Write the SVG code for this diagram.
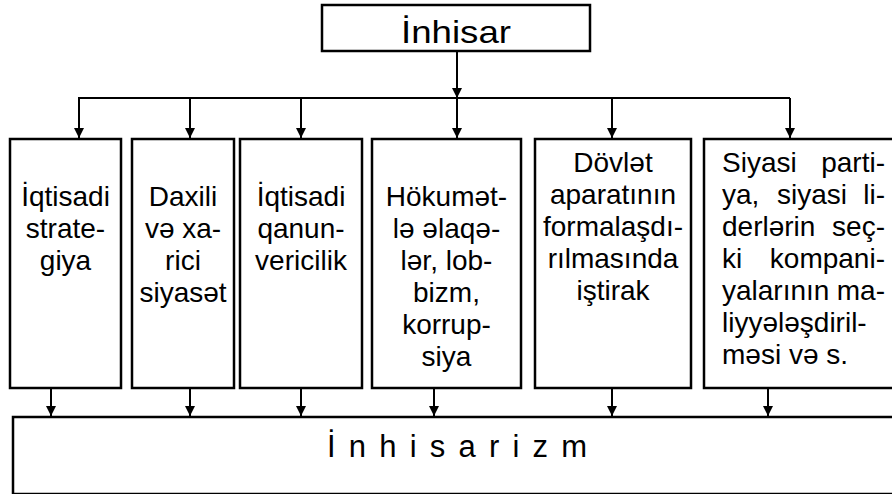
<svg xmlns="http://www.w3.org/2000/svg" width="892" height="494" viewBox="0 0 892 494">
<defs>
<style>
.box{fill:#fff;stroke:#000;stroke-width:2.5}
.ln{fill:none;stroke:#000;stroke-width:2}
.t{font-family:"Liberation Sans",Arial,sans-serif;font-size:28px;fill:#000;text-anchor:middle}
.s{text-anchor:start}
.e{text-anchor:end}
</style>
<marker id="ah" viewBox="0 0 10 10" refX="10" refY="5" markerWidth="10" markerHeight="10" markerUnits="userSpaceOnUse" orient="auto">
<path d="M0,0 L10,5 L0,10 Z" fill="#000"/>
</marker>
</defs>
<rect width="892" height="494" fill="#fff"/>
<g id="connectors">
<line class="ln" x1="457" y1="51" x2="457" y2="98" marker-end="url(#ah)"/>
<line class="ln" x1="79" y1="98" x2="790" y2="98"/>
<line class="ln" x1="79" y1="97" x2="79" y2="138" marker-end="url(#ah)"/>
<line class="ln" x1="190" y1="98" x2="190" y2="138" marker-end="url(#ah)"/>
<line class="ln" x1="301" y1="98" x2="301" y2="138" marker-end="url(#ah)"/>
<line class="ln" x1="457" y1="98" x2="457" y2="138" marker-end="url(#ah)"/>
<line class="ln" x1="612" y1="98" x2="612" y2="138" marker-end="url(#ah)"/>
<line class="ln" x1="790" y1="98" x2="790" y2="138" marker-end="url(#ah)"/>
<line class="ln" x1="51" y1="389" x2="51" y2="416" marker-end="url(#ah)"/>
<line class="ln" x1="190" y1="389" x2="190" y2="416" marker-end="url(#ah)"/>
<line class="ln" x1="301" y1="389" x2="301" y2="416" marker-end="url(#ah)"/>
<line class="ln" x1="434" y1="389" x2="434" y2="416" marker-end="url(#ah)"/>
<line class="ln" x1="612" y1="389" x2="612" y2="416" marker-end="url(#ah)"/>
<line class="ln" x1="768" y1="389" x2="768" y2="416" marker-end="url(#ah)"/>
</g>
<g id="inhisar">
<rect class="box" x="322" y="5" width="268" height="46"/>
<text class="t" x="456" y="43" font-size="32" style="font-size:32px" textLength="110" lengthAdjust="spacingAndGlyphs">İnhisar</text>
</g>
<g id="n1">
<rect class="box" x="10" y="139" width="111" height="249"/>
<text class="t" x="65.5" y="206">İqtisadi</text>
<text class="t" x="65.5" y="238">strate-</text>
<text class="t" x="65.5" y="270">giya</text>
</g>
<g id="n2">
<rect class="box" x="132" y="139" width="102" height="249"/>
<text class="t" x="183" y="206">Daxili</text>
<text class="t" x="183" y="238">və xa-</text>
<text class="t" x="183" y="270">rici</text>
<text class="t" x="183" y="302">siyasət</text>
</g>
<g id="n3">
<rect class="box" x="240" y="139" width="122" height="249"/>
<text class="t" x="301" y="206">İqtisadi</text>
<text class="t" x="301" y="238">qanun-</text>
<text class="t" x="301" y="270">vericilik</text>
</g>
<g id="n4">
<rect class="box" x="372" y="139" width="149" height="249"/>
<text class="t" x="446.5" y="206">Hökumət-</text>
<text class="t" x="446.5" y="238">lə əlaqə-</text>
<text class="t" x="446.5" y="270">lər, lob-</text>
<text class="t" x="446.5" y="302">bizm,</text>
<text class="t" x="446.5" y="334">korrup-</text>
<text class="t" x="446.5" y="366">siya</text>
</g>
<g id="n5">
<rect class="box" x="535" y="139" width="156" height="249"/>
<text class="t" x="613" y="172">Dövlət</text>
<text class="t" x="613" y="204">aparatının</text>
<text class="t" x="613" y="236">formalaşdı-</text>
<text class="t" x="613" y="268">rılmasında</text>
<text class="t" x="613" y="300">iştirak</text>
</g>
<g id="n6">
<rect class="box" x="704" y="139" width="200" height="249"/>
<text class="t s" x="722" y="172">Siyasi</text><text class="t e" x="885" y="172">parti-</text>
<text class="t s" x="722" y="204">ya,</text><text class="t" x="812" y="204">siyasi</text><text class="t e" x="885" y="204">li-</text>
<text class="t s" x="722" y="236">derlərin</text><text class="t e" x="885" y="236">seç-</text>
<text class="t s" x="722" y="268">ki</text><text class="t e" x="885" y="268">kompani-</text>
<text class="t s" x="722" y="300">yalarının</text><text class="t e" x="885" y="300">ma-</text>
<text class="t s" x="722" y="332">liyyələşdiril-</text>
<text class="t s" x="722" y="364">məsi və s.</text>
</g>
<g id="inhisarizm">
<rect class="box" x="13" y="417" width="900" height="77"/>
<text class="t" x="457" y="457" style="font-size:31px" textLength="260" lengthAdjust="spacing">İ n h i s a r i z m</text>
</g>
</svg>
